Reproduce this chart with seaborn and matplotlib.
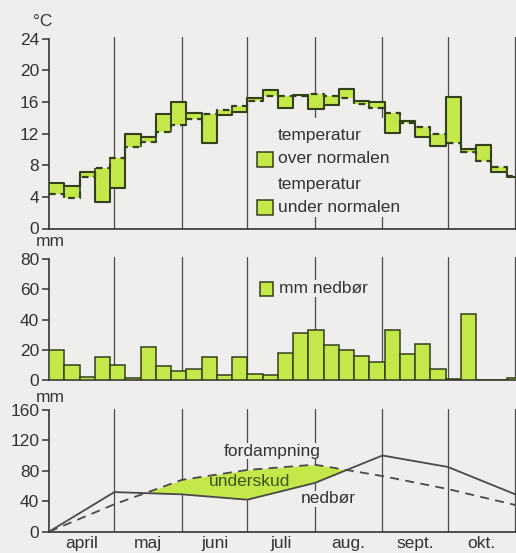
import numpy as np
import pandas as pd
import matplotlib
matplotlib.use("Agg")
import matplotlib.pyplot as plt
from matplotlib.patches import Rectangle
import seaborn as sns

# ---------------- data ----------------
months = ["april", "maj", "juni", "juli", "aug.", "sept.", "okt."]
month_start_day = [0, 30, 61, 91, 122, 153, 183, 214]

temp_actual = [5.8, 5.4, 7.2, 3.3, 5.1, 11.9, 11.6, 14.5, 16.0, 14.6, 10.8,
               14.4, 14.8, 16.5, 17.5, 15.3, 16.9, 15.1, 15.6, 17.6, 16.1,
               16.0, 12.1, 13.6, 11.6, 10.4, 16.6, 10.0, 10.6, 7.2, 6.5]
temp_normal = [4.4, 3.8, 6.5, 7.6, 8.9, 10.3, 10.9, 12.2, 13.1, 13.9, 14.5,
               15.0, 15.5, 16.2, 16.8, 16.8, 16.8, 17.0, 16.8, 16.5, 15.8,
               15.3, 14.6, 13.4, 12.8, 11.9, 10.8, 9.7, 8.6, 7.8, 6.6]
precip_week = [20, 10, 2, 15, 10, 1, 22, 9, 6, 7, 15, 3, 15, 4, 3, 18, 31,
               33, 23, 20, 16, 12, 33, 17, 24, 7, 0.5, 44, 0, 0, 1]
evap_month = [0, 36, 68, 81, 88, 73, 56, 35]
precip_month = [0, 52, 49, 42, 64, 100, 85, 49]

temp_ticks = [0, 4, 8, 12, 16, 20, 24]
prec_ticks = [0, 20, 40, 60, 80]
bal_ticks = [0, 40, 80, 120, 160]

# ---------------- style ----------------
BG = "#eeeeec"
GREEN = "#c4e84a"
EDGE = "#34401c"
INK = "#333333"
LINE = "#4a4a4a"

sns.set_theme(style="white")
plt.rcParams["font.family"] = ["Liberation Sans", "DejaVu Sans"]
plt.rcParams["text.color"] = INK
FS = 12.5

W, H = 516, 553
fig = plt.figure(figsize=(W / 100, H / 100), dpi=100, facecolor=BG)

X0 = 49
XMAX = 214.3
AXW = (W - X0) / W


def mk_axes(y_zero_px, height_px):
    return fig.add_axes([X0 / W, (H - y_zero_px) / H, AXW, height_px / H])


ax1 = mk_axes(228.5, 192)
ax2 = mk_axes(380, 123)
ax3 = mk_axes(531.7, 122.7)

for ax in (ax1, ax2, ax3):
    ax.set_facecolor(BG)
    for d in month_start_day[1:]:
        ax.axvline(d, color=LINE, lw=0.9, zorder=1)

# ---------------- panel 1: temperature ----------------
week_start = np.arange(len(temp_actual)) * 7
ta = np.array(temp_actual)
tn = np.array(temp_normal)
lo = np.minimum(ta, tn)
hi = np.maximum(ta, tn)
ax1.bar(week_start, hi - lo, bottom=lo, width=7, align="edge",
        color=GREEN, edgecolor="none", linewidth=0, zorder=3)
# vertical box sides
ax1.vlines(week_start, lo, hi, color=EDGE, lw=1.2, zorder=4)
ax1.vlines(week_start + 7, lo, hi, color=EDGE, lw=1.2, zorder=4)
step_x = np.append(week_start, week_start[-1] + 7)
df_t = pd.DataFrame({"day": step_x,
                     "actual": np.append(ta, ta[-1]),
                     "normal": np.append(tn, tn[-1])})
sns.lineplot(data=df_t, x="day", y="actual", ax=ax1, color=EDGE, lw=1.5,
             drawstyle="steps-post", estimator=None, zorder=5)
sns.lineplot(data=df_t, x="day", y="normal", ax=ax1, color=EDGE, lw=1.6,
             drawstyle="steps-post", estimator=None, zorder=6,
             linestyle=(0, (3.0, 2.2)))

# legend block (masks the month lines)
ax1.add_patch(Rectangle((92.7, 1.5), 62, 12.5, facecolor=BG, edgecolor="none", zorder=2))
ax1.add_patch(Rectangle((95.4, 7.8), 7.2, 1.9, facecolor=GREEN, edgecolor=EDGE, lw=1.1, zorder=3))
ax1.add_patch(Rectangle((95.4, 1.7), 7.2, 1.9, facecolor=GREEN, edgecolor=EDGE, lw=1.1, zorder=3))
ax1.text(105, 11.8, "temperatur", fontsize=FS, va="center", ha="left", zorder=7)
ax1.text(105, 8.8, "over normalen", fontsize=FS, va="center", ha="left", zorder=7)
ax1.text(105, 5.6, "temperatur", fontsize=FS, va="center", ha="left", zorder=7)
ax1.text(105, 2.7, "under normalen", fontsize=FS, va="center", ha="left", zorder=7)

# ---------------- panel 2: precipitation ----------------
df_p = pd.DataFrame({"day": week_start + 3.5, "mm": precip_week})
sns.histplot(data=df_p, x="day", weights="mm", binwidth=7,
             binrange=(0, 7 * len(precip_week)), ax=ax2, color=GREEN,
             edgecolor=EDGE, linewidth=1.1, alpha=1, zorder=3)
ax2.add_patch(Rectangle((94.5, 55), 55, 11, facecolor=BG, edgecolor="none", zorder=2))
ax2.add_patch(Rectangle((96.8, 55.5), 6.0, 9.5, facecolor=GREEN, edgecolor=EDGE, lw=1.1, zorder=3))
ax2.text(105.5, 60.3, "mm nedbør", fontsize=FS, va="center", ha="left", zorder=6)

# ---------------- panel 3: water balance ----------------
df_b = pd.DataFrame({"day": month_start_day, "evap": evap_month, "prec": precip_month})
ev = np.array(evap_month, dtype=float)
pr = np.array(precip_month, dtype=float)
ax3.fill_between(month_start_day, pr, ev, where=ev > pr, interpolate=True,
                 color=GREEN, linewidth=0, zorder=2)
sns.lineplot(data=df_b, x="day", y="prec", ax=ax3, color=LINE, lw=1.3,
             estimator=None, zorder=4)
sns.lineplot(data=df_b, x="day", y="evap", ax=ax3, color=LINE, lw=1.3,
             estimator=None, zorder=4, linestyle=(0, (5, 3.5)))
bb = dict(facecolor=BG, edgecolor="none", pad=0.5)
ax3.text(102.3, 105.8, "fordampning", fontsize=FS, ha="center", va="center",
         zorder=6, bbox=bb)
ax3.text(92.2, 66.5, "underskud", fontsize=FS, ha="center", va="center",
         zorder=6, color="#3b5418")
ax3.text(128, 43, "nedbør", fontsize=FS, ha="center", va="center", zorder=6, bbox=bb)

# ---------------- axes cosmetics ----------------
for ax, top, yt, bound in [(ax1, 24.3, temp_ticks, 24), (ax2, 81.5, prec_ticks, 80),
                           (ax3, 161, bal_ticks, 160)]:
    ax.set_xlim(0, XMAX)
    ax.set_ylim(0, top)
    ax.set_yticks(yt)
    ax.set_yticklabels([str(v) for v in yt], fontsize=FS, color=INK)
    for s in ["top", "right"]:
        ax.spines[s].set_visible(False)
    ax.spines["left"].set_bounds(0, bound)
    for s in ["left", "bottom"]:
        ax.spines[s].set_visible(True)
        ax.spines[s].set_color(INK)
        ax.spines[s].set_linewidth(1.2)
    ax.tick_params(axis="y", direction="out", length=5, width=1.1, color=INK, pad=2,
                   left=True)
    ax.tick_params(axis="x", length=0, bottom=False)
    ax.set_xlabel("")
    ax.set_ylabel("")
    ax.set_xticks([])

mid = [(a + b) / 2 for a, b in zip(month_start_day[:-1], month_start_day[1:])]
ax3.set_xticks(mid)
ax3.set_xticklabels(months, fontsize=FS, color=INK)
ax3.tick_params(axis="x", length=0, pad=3)

# unit labels
fig.text(43 / W, 1 - 22 / H, "°C", fontsize=FS, ha="center", va="center", color=INK)
fig.text(50 / W, 1 - 242 / H, "mm", fontsize=FS, ha="center", va="center", color=INK)
fig.text(50 / W, 1 - 398 / H, "mm", fontsize=FS, ha="center", va="center", color=INK)

fig.savefig("out.png", dpi=100, facecolor=BG)
